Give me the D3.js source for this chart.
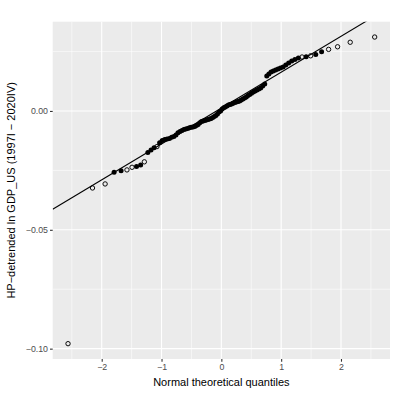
<!DOCTYPE html>
<html>
<head>
<meta charset="utf-8">
<script src="https://cdn.jsdelivr.net/npm/d3@7"></script>
<style>
  body { margin: 0; background: #fff; }
  text { font-family: "Liberation Sans", Arial, sans-serif; }
</style>
</head>
<body>
<div id="chart"></div>
<script>
// theoretical normal quantiles (x) for the 96 quarters
const quantiles = [
  -2.563, -2.154, -1.943, -1.793, -1.676, -1.578, -1.493, -1.418, -1.349, -1.287,
  -1.229, -1.176, -1.125, -1.077, -1.032, -0.988, -0.947, -0.907, -0.868, -0.831,
  -0.794, -0.759, -0.725, -0.691, -0.658, -0.626, -0.595, -0.564, -0.534, -0.504,
  -0.474, -0.445, -0.417, -0.388, -0.360, -0.332, -0.305, -0.278, -0.251, -0.224,
  -0.197, -0.171, -0.144, -0.118, -0.092, -0.065, -0.039, -0.013,
  0.013, 0.039, 0.065, 0.092, 0.118, 0.144, 0.171, 0.197, 0.224, 0.251,
  0.278, 0.305, 0.332, 0.360, 0.388, 0.417, 0.445, 0.474, 0.504, 0.534,
  0.564, 0.595, 0.626, 0.658, 0.691, 0.725, 0.759, 0.794, 0.831, 0.868,
  0.907, 0.947, 0.988, 1.032, 1.077, 1.125, 1.176, 1.229, 1.287, 1.349,
  1.418, 1.493, 1.578, 1.676, 1.793, 1.943, 2.154, 2.563
];

// sorted sample values (HP-detrended ln GDP)
const values = [
  -0.0979, -0.0324, -0.0307, -0.0258, -0.0252, -0.0248, -0.0237, -0.0234, -0.0227, -0.0214,
  -0.0175, -0.0164, -0.0155, -0.0150, -0.0134, -0.0124, -0.0120, -0.0118, -0.0116, -0.0111,
  -0.0107, -0.0101, -0.0092, -0.0086, -0.0082, -0.0078, -0.0076, -0.0074, -0.0071, -0.0069,
  -0.0067, -0.0065, -0.0061, -0.0057, -0.0050, -0.0044, -0.0042, -0.0040, -0.0038, -0.0036,
  -0.0034, -0.0032, -0.0027, -0.0023, -0.0019, -0.0013, -0.0004, 0.0000,
  0.0008, 0.0013, 0.0017, 0.0021, 0.0025, 0.0027, 0.0029, 0.0032, 0.0036, 0.0038,
  0.0040, 0.0042, 0.0046, 0.0050, 0.0055, 0.0059, 0.0065, 0.0069, 0.0074, 0.0080,
  0.0084, 0.0088, 0.0092, 0.0097, 0.0105, 0.0113, 0.0147, 0.0155, 0.0164, 0.0168,
  0.0172, 0.0176, 0.0181, 0.0185, 0.0193, 0.0202, 0.0210, 0.0217, 0.0223, 0.0227,
  0.0228, 0.0232, 0.0238, 0.0249, 0.0259, 0.0270, 0.0289, 0.0311
];

// points drawn as open circles (0-based index); the rest are solid dots
const openIdx = [0, 1, 2, 5, 6, 9, 13, 87, 89, 92, 93, 94, 95];

// reference line
const lineIntercept = 0.0012;
const lineSlope = 0.0151;

const xTicks = [-2, -1, 0, 1, 2];
const xMinor = [-2.5, -1.5, -0.5, 0.5, 1.5, 2.5];
const yTicks = [0, -0.05, -0.10];
const yMinor = [0.025, -0.025, -0.075];

const xTitle = "Normal theoretical quantiles";
const yTitle = "HP\u2212detrended ln GDP_US (1997I \u2212 2020IV)";

const width = 411, height = 395;
const panel = { left: 52.7, right: 390, top: 21.7, bottom: 359 };

const svg = d3.select("#chart").append("svg")
  .attr("width", width).attr("height", height);

const data = quantiles.map((q, i) => ({ x: q, y: values[i], filled: !openIdx.includes(i) }));

// ggplot-like 5% expansion
function expand(ext) {
  const d = (ext[1] - ext[0]) * 0.05;
  return [ext[0] - d, ext[1] + d];
}

const x = d3.scaleLinear()
  .domain(expand(d3.extent(quantiles)))
  .range([panel.left, panel.right]);

const y = d3.scaleLinear()
  .domain(expand(d3.extent(values)))
  .range([panel.bottom, panel.top]);

// panel background
svg.append("rect")
  .attr("x", panel.left).attr("y", panel.top)
  .attr("width", panel.right - panel.left)
  .attr("height", panel.bottom - panel.top)
  .attr("fill", "#EBEBEB");

const grid = svg.append("g");
grid.selectAll("line.xmin").data(xMinor).enter().append("line")
  .attr("x1", d => x(d)).attr("x2", d => x(d))
  .attr("y1", panel.top).attr("y2", panel.bottom)
  .attr("stroke", "#fff").attr("stroke-width", 0.55);
grid.selectAll("line.ymin").data(yMinor).enter().append("line")
  .attr("y1", d => y(d)).attr("y2", d => y(d))
  .attr("x1", panel.left).attr("x2", panel.right)
  .attr("stroke", "#fff").attr("stroke-width", 0.55);
grid.selectAll("line.xmaj").data(xTicks).enter().append("line")
  .attr("x1", d => x(d)).attr("x2", d => x(d))
  .attr("y1", panel.top).attr("y2", panel.bottom)
  .attr("stroke", "#fff").attr("stroke-width", 1.1);
grid.selectAll("line.ymaj").data(yTicks).enter().append("line")
  .attr("y1", d => y(d)).attr("y2", d => y(d))
  .attr("x1", panel.left).attr("x2", panel.right)
  .attr("stroke", "#fff").attr("stroke-width", 1.1);

// clip for line
svg.append("clipPath").attr("id", "clip").append("rect")
  .attr("x", panel.left).attr("y", panel.top)
  .attr("width", panel.right - panel.left)
  .attr("height", panel.bottom - panel.top);

const xd = x.domain();
svg.append("line")
  .attr("clip-path", "url(#clip)")
  .attr("x1", x(xd[0])).attr("y1", y(lineIntercept + lineSlope * xd[0]))
  .attr("x2", x(xd[1])).attr("y2", y(lineIntercept + lineSlope * xd[1]))
  .attr("stroke", "#000").attr("stroke-width", 1.1);

// points
svg.append("g").selectAll("circle").data(data).enter().append("circle")
  .attr("cx", d => x(d.x)).attr("cy", d => y(d.y))
  .attr("r", d => d.filled ? 2.5 : 2.2)
  .attr("fill", d => d.filled ? "#000" : "none")
  .attr("stroke", "#000")
  .attr("stroke-width", d => d.filled ? 0 : 0.95);

// axes
const xAxis = d3.axisBottom(x).tickValues(xTicks).tickSize(2.7).tickPadding(2)
  .tickFormat(d => d3.format("d")(d).replace("-", "\u2212"));
const gx = svg.append("g").attr("transform", `translate(0,${panel.bottom})`).call(xAxis);
const yAxis = d3.axisLeft(y).tickValues(yTicks).tickSize(2.7).tickPadding(2)
  .tickFormat(d => d3.format(".2f")(d).replace("-", "\u2212"));
const gy = svg.append("g").attr("transform", `translate(${panel.left},0)`).call(yAxis);

[gx, gy].forEach(g => {
  g.select(".domain").remove();
  g.selectAll(".tick line").attr("stroke", "#333").attr("stroke-width", 1.1);
  g.selectAll(".tick text").attr("fill", "#4D4D4D")
    .style("font-size", "8.8px").style("font-family", "'Liberation Sans', Arial, sans-serif");
});

svg.append("text")
  .attr("x", (panel.left + panel.right) / 2).attr("y", 386)
  .attr("text-anchor", "middle").attr("font-size", 11).attr("fill", "#000")
  .text(xTitle);

svg.append("text")
  .attr("transform", `translate(15,${(panel.top + panel.bottom) / 2}) rotate(-90)`)
  .attr("text-anchor", "middle").attr("font-size", 11).attr("fill", "#000")
  .text(yTitle);
</script>
</body>
</html>
